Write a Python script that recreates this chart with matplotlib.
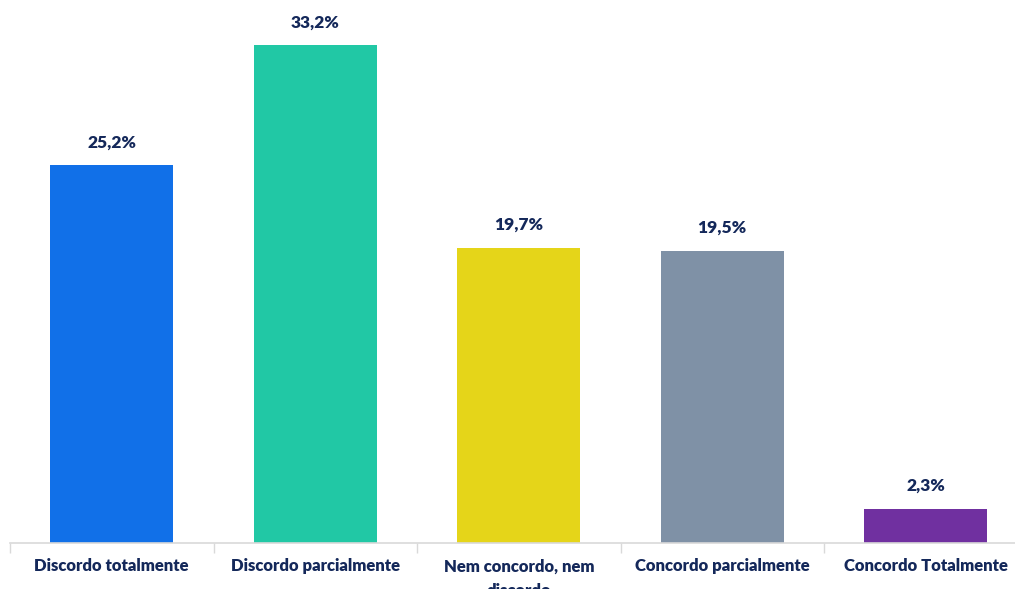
import matplotlib.pyplot as plt

categories = ["Discordo totalmente", "Discordo parcialmente", "Nem concordo, nem\ndiscordo",
              "Concordo parcialmente", "Concordo Totalmente"]
values = [25.2, 33.2, 19.7, 19.5, 2.3]
labels = ["25,2%", "33,2%", "19,7%", "19,5%", "2,3%"]
colors = ["#1170E8", "#21C8A5", "#E5D519", "#7F91A6", "#7030A0"]

text_color = "#14285A"
plt.rcParams['font.family'] = ['Lato', 'DejaVu Sans']

fig = plt.figure(figsize=(10.15, 5.89), dpi=100)
ax = fig.add_axes([10 / 1015, 46 / 589, 1017.5 / 1015, 543 / 589])

x = range(len(categories))
ax.bar(x, values, width=0.605, color=colors)
for i, (v, lab) in enumerate(zip(values, labels)):
    ax.annotate(lab, (i, v), xytext=(0, 10.5), textcoords="offset points",
                ha="center", va="bottom", fontsize=12.5, fontweight="heavy", color=text_color)

ax.set_xlim(-0.5, len(categories) - 0.5)
ax.set_ylim(0, 36.2)
ax.set_yticks([])
for s in ["top", "right", "left"]:
    ax.spines[s].set_visible(False)
ax.spines["bottom"].set_color("#D9D9D9")
ax.spines["bottom"].set_linewidth(1.2)

ax.set_xticks([i - 0.5 for i in range(len(categories) + 1)], minor=False)
ax.set_xticklabels([])
ax.tick_params(axis="x", length=7, color="#D9D9D9", width=1)
ax.set_xticks(list(x), minor=True)
ax.set_xticklabels(categories, minor=True, fontsize=12, fontweight="heavy",
                   color=text_color, linespacing=1.65)
ax.tick_params(axis="x", which="minor", length=0, pad=11)

fig.savefig("out.png", dpi=100)
